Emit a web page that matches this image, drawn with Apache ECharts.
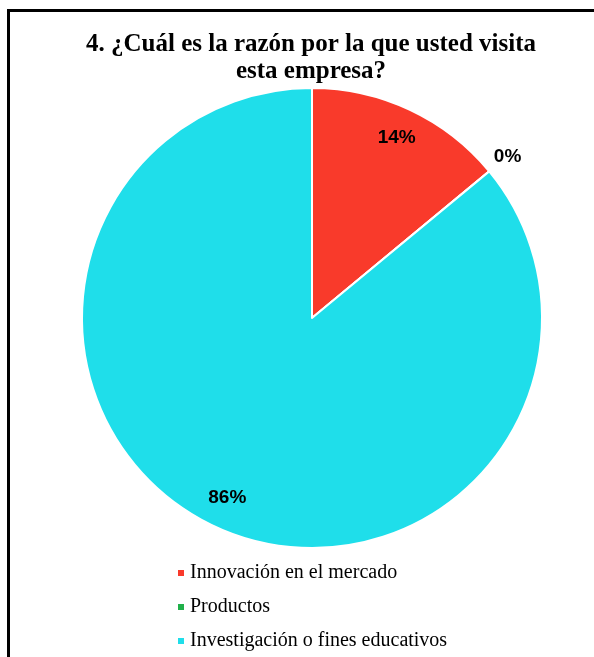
<!DOCTYPE html>
<html>
<head>
<meta charset="utf-8">
<script src="https://cdn.jsdelivr.net/npm/echarts@6/dist/echarts.min.js"></script>
<style>
  html, body { margin: 0; padding: 0; background: #fff; }
  #chart { position: absolute; left: 0; top: 0; width: 594px; height: 657px; }
  #frame {
    position: absolute; left: 7px; top: 9px; width: 600px; height: 660px;
    border-left: 3px solid #000; border-top: 3px solid #000; pointer-events: none;
  }
</style>
</head>
<body>
<div id="chart"></div>
<div id="frame"></div>
<script>
// razones de visita (porcentaje)
const categorias = ["Innovación en el mercado", "Productos", "Investigación o fines educativos"];
const valores = [14, 0, 86];
const colores = ["#f93a2b", "#20b04a", "#1fdeea"];

const myChart = echarts.init(document.getElementById("chart"));

const datos = categorias.map((c, i) => ({ name: c, value: valores[i] }));

myChart.setOption({
  animation: false,
  color: colores,
  title: {
    text: "4. ¿Cuál es la razón por la que usted visita\nesta empresa?",
    left: 306,
    textAlign: "center",
    top: 26,
    textStyle: {
      fontFamily: "Liberation Serif",
      fontWeight: "bold",
      fontSize: 25,
      lineHeight: 27,
      color: "#000"
    }
  },
  legend: {
    orient: "vertical",
    left: 171,
    top: 558,
    itemWidth: 8,
    itemHeight: 8,
    itemGap: 14,
    icon: "rect",
    data: categorias,
    textStyle: {
      fontFamily: "Liberation Serif",
      fontSize: 20,
      color: "#000"
    }
  },
  series: [
    {
      name: "visitas",
      type: "pie",
      center: [312, 318],
      radius: [0, 230],
      startAngle: 90,
      clockwise: true,
      silent: true,
      label: { show: false },
      labelLine: { show: false },
      itemStyle: { borderColor: "#fff", borderWidth: 2 },
      data: datos
    },
    {
      // anillo invisible solo para ubicar las etiquetas
      name: "etiquetas",
      type: "pie",
      center: [312, 318],
      radius: [162, 230],
      startAngle: 90,
      clockwise: true,
      silent: true,
      legendHoverLink: false,
      itemStyle: { color: "transparent" },
      label: {
        show: true,
        position: "inside",
        formatter: "{c}%",
        fontFamily: "Liberation Sans",
        fontWeight: "bold",
        fontSize: 19,
        color: "#000"
      },
      labelLine: { show: false },
      data: datos.map(d => d.value === 0 ? {
        name: d.name, value: d.value,
        label: { position: "outside", distanceToLabelLine: 0, formatter: "{c}%\n ", lineHeight: 22 },
        labelLine: { show: false, length: 6, length2: 0 }
      } : d)
    }
  ]
});
</script>
</body>
</html>
